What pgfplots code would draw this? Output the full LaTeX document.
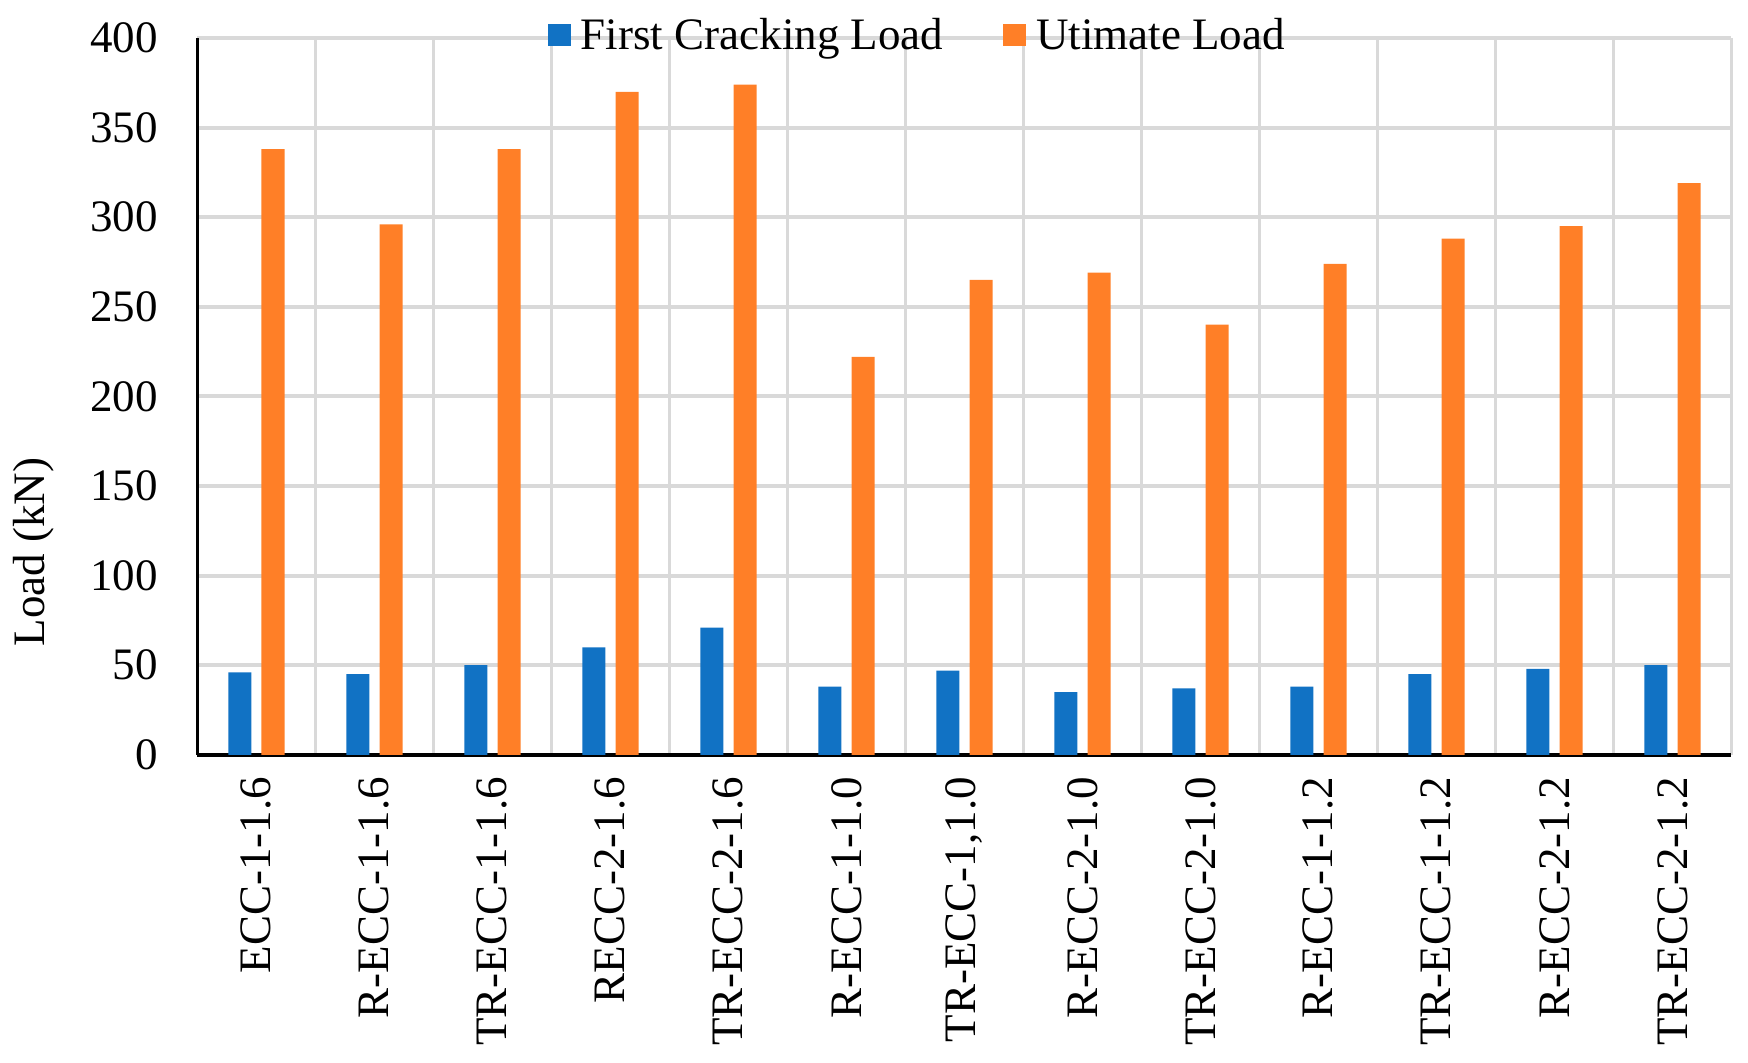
\documentclass[border=0pt]{standalone}
\usepackage{pgfplots}
\pgfplotsset{compat=1.18}
\usepackage{fontspec}
\setmainfont{Liberation Serif}
\definecolor{cblue}{RGB}{17,114,196}
\definecolor{corange}{RGB}{255,127,39}
\definecolor{gridgray}{RGB}{217,217,217}
\begin{document}
\begin{tikzpicture}[font=\fontsize{22.5}{27}\selectfont]
\begin{axis}[
  at={(0,0)}, anchor=south west,
  scale only axis, width=767pt, height=358.4pt,
  xmin=-0.5, xmax=12.5, ymin=0, ymax=400,
  axis x line=bottom, axis y line=left,
  x axis line style={line width=2pt, -},
  y axis line style={line width=1.5pt, -},
  xtick={0,...,12},
  xticklabels={{ECC-1-1.6},{R-ECC-1-1.6},{TR-ECC-1-1.6},{RECC-2-1.6},{TR-ECC-2-1.6},{R-ECC-1-1.0},{TR-ECC-1,1.0},{R-ECC-2-1.0},{TR-ECC-2-1.0},{R-ECC-1-1.2},{TR-ECC-1-1.2},{R-ECC-2-1.2},{TR-ECC-2-1.2}},
  minor xtick={-0.5,0.5,...,12.5},
  xminorgrids=true, xmajorgrids=false,
  ytick={0,50,...,400}, ymajorgrids=true,
  minor grid style={gridgray, line width=1.6pt},
  major grid style={gridgray, line width=2pt},
  major tick length=0pt, minor tick length=0pt,
  /pgf/number format/assume math mode=true,
  yticklabel style={anchor=east, inner sep=0pt},
  yticklabel shift=19.5pt,
  xticklabel style={rotate=90, anchor=east, inner sep=0pt},
  xticklabel shift=11pt,
  ylabel={Load (kN)},
  ylabel style={at={(axis description cs:-0.1069,0.283)}, anchor=center},
  legend columns=2,
  legend style={draw=none, fill=none, at={(axis description cs:0.2282,1.0042)}, anchor=west,
    inner sep=0pt, nodes={inner sep=0pt},
    /tikz/every odd column/.append style={column sep=5pt},
    /tikz/every even column/.append style={column sep=30pt}},
  legend image code/.code={\fill[#1] (0pt,-5.5pt) rectangle (11.5pt,5.5pt);},
]
\addplot[ybar, bar width=11.5pt, bar shift=-8.3pt, fill=cblue, draw=none] coordinates {
 (0,46) (1,45) (2,50) (3,60) (4,71) (5,38) (6,47) (7,35) (8,37) (9,38) (10,45) (11,48) (12,50)};
\addlegendentry{First Cracking Load}
\addplot[ybar, bar width=11.5pt, bar shift=8.3pt, fill=corange, draw=none] coordinates {
 (0,338) (1,296) (2,338) (3,370) (4,374) (5,222) (6,265) (7,269) (8,240) (9,274) (10,288) (11,295) (12,319)};
\addlegendentry{Utimate Load}
\end{axis}
\pgfresetboundingbox
\path (-98.7pt,-154.1pt) rectangle (775.3pt,377.4pt);
\end{tikzpicture}
\end{document}
